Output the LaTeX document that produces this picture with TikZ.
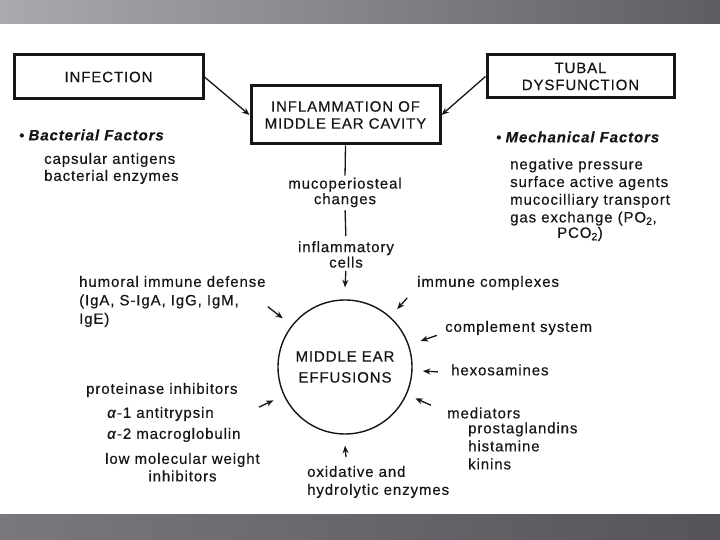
\documentclass[tikz,border=0pt]{standalone}
\usepackage{fontspec}
\setmainfont[LetterSpace=6,FakeBold=0.4]{Liberation Sans}
\usetikzlibrary{arrows.meta,calc}
\definecolor{ink}{HTML}{161616}
\definecolor{bandA}{HTML}{ABA9AE}
\definecolor{bandB}{HTML}{5F5D63}
\definecolor{bandC}{HTML}{7A787D}
\definecolor{bandD}{HTML}{56545A}
\tikzset{
  txt/.style={font=\fontsize{15}{17.5}\selectfont, text=ink, inner sep=0pt},
  lbox/.style={draw=ink, line width=3pt, text=ink, align=center,
    font=\fontsize{15}{17}\selectfont, inner sep=0pt},
  arr/.style={draw=ink, line width=1.3pt, -{Stealth[length=7.5pt,width=6pt]}},
  plain/.style={draw=ink, line width=1.3pt},
  hdr/.style={txt, font=\fontsize{15}{17.5}\selectfont\bfseries\itshape},
}
\newcommand{\bul}{{\fontsize{14}{14}\selectfont\raisebox{0.3pt}{•}}\hspace{4.5pt}}
\begin{document}
\begin{tikzpicture}[x=1pt,y=1pt]
\useasboundingbox (0,0) rectangle (720,540);
\fill[white] (0,0) rectangle (720,540);
\shade[left color=bandA, right color=bandB] (0,516) rectangle (720,540);
\shade[left color=bandC, right color=bandD] (0,0) rectangle (720,25);

% boxes
\node[lbox, minimum width=189pt, minimum height=44pt] (inf) at (108.5,463) {INFECTION};
\node[lbox, minimum width=189pt, minimum height=58pt] (infl) at (345.5,425) {INFLAMMATION OF\\MIDDLE EAR CAVITY};
\node[lbox, minimum width=187pt, minimum height=43pt] (tub) at (580.5,463.5) {TUBAL\\DYSFUNCTION};

\draw[arr] (inf.east) -- (infl.west);
\draw[arr] (tub.west) -- (infl.east);

% factor lists
\node[hdr, anchor=west] (bact) at (19,405) {\bul Bacterial Factors};
\node[txt, anchor=west, align=left, font=\fontsize{15}{17}\selectfont] (bactl) at (44,371.5) {capsular antigens\\bacterial enzymes};
\node[hdr, anchor=west] (mech) at (496,403) {\bul Mechanical Factors};
\node[txt, anchor=west, align=left, font=\fontsize{15}{17.7}\selectfont] (mechl) at (510,348) {negative pressure\\surface active agents\\mucocilliary transport\\gas exchange (PO\textsubscript{2},};
\node[txt] (pco) at (580,306) {PCO\textsubscript{2})};

% central chain
\node[txt, align=center, font=\fontsize{15}{15.5}\selectfont] (muco) at (345,347.5) {mucoperiosteal\\changes};
\node[txt, align=center, font=\fontsize{15}{15.5}\selectfont] (cells) at (346,285.5) {inflammatory\\cells};
\node[circle, draw=ink, line width=1.4pt, minimum size=134pt, inner sep=0pt, text=ink, align=center,
  font=\fontsize{15}{21}\selectfont] (eff) at (345,173) {MIDDLE EAR\\EFFUSIONS};

\draw[plain, shorten >=2pt] (infl.south) -- (muco.north);
\draw[plain, shorten <=3pt, shorten >=5pt] (muco.south) -- (cells.north);
\draw[arr, shorten <=3pt] (cells.south) -- ($(eff.north)+(0,12)$);

% left labels
\node[txt, anchor=west, align=left, font=\fontsize{15}{18.5}\selectfont] (hum) at (79,238.5) {humoral immune defense\\(IgA, S-IgA, IgG, IgM,\\IgE)};
\node[txt, anchor=west] (prot) at (86,150) {proteinase inhibitors};
\node[txt, anchor=west] (a1) at (107,126) {\textit{α}-1 antitrypsin};
\node[txt, anchor=west] (a2) at (107,105) {\textit{α}-2 macroglobulin};
\node[txt, anchor=west] (low) at (105,80) {low molecular weight};
\node[txt] (inhib) at (182.5,64) {inhibitors};

% right labels
\node[txt, anchor=west] (immc) at (417,257) {immune complexes};
\node[txt, anchor=west] (comp) at (445,212) {complement system};
\node[txt, anchor=west] (hexo) at (451,170) {hexosamines};
\node[txt, anchor=west] (medi) at (447,127) {mediators};
\node[txt, anchor=west, align=left, font=\fontsize{15}{18}\selectfont] (medl) at (468,94) {prostaglandins\\histamine\\kinins};

% bottom label
\node[txt, anchor=west, align=left, font=\fontsize{15}{18}\selectfont] (oxi) at (307,58) {oxidative and\\hydrolytic enzymes};

% short arrows towards the effusion circle
\coordinate (t1) at ($(eff.center)+(142:98)$);
\coordinate (h1) at ($(eff.center)+(142:79)$);
\coordinate (t2) at ($(eff.center)+(205:95)$);
\coordinate (h2) at ($(eff.center)+(205:79)$);
\coordinate (t3) at ($(eff.center)+(48:93)$);
\coordinate (h3) at ($(eff.center)+(48:78)$);
\coordinate (t4) at ($(eff.center)+(19:97)$);
\coordinate (h4) at ($(eff.center)+(19:80)$);
\coordinate (t5) at ($(eff.center)+(-3:93)$);
\coordinate (h5) at ($(eff.center)+(-3:78)$);
\coordinate (t6) at ($(eff.center)+(-24:94)$);
\coordinate (h6) at ($(eff.center)+(-24:77)$);
\coordinate (t7) at (346,83);
\draw[arr] (t1) -- (h1);
\draw[arr] (t2) -- (h2);
\draw[arr] (t3) -- (h3);
\draw[arr] (t4) -- (h4);
\draw[arr] (t5) -- (h5);
\draw[arr] (t6) -- (h6);
\draw[arr] (t7) -- ($(eff.south)+(0,-11)$);
\end{tikzpicture}
\end{document}
